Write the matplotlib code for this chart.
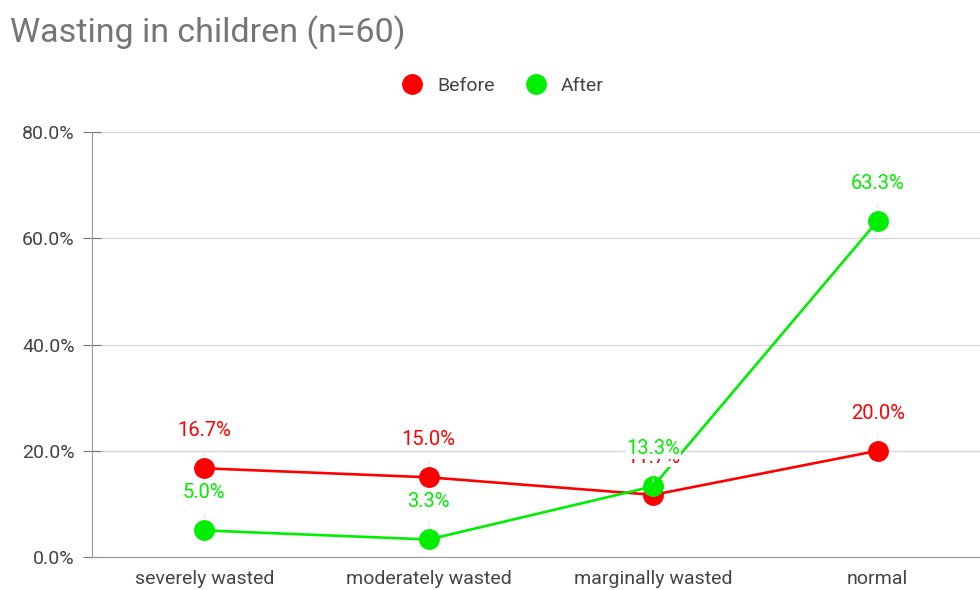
import matplotlib
matplotlib.use("Agg")
import matplotlib.pyplot as plt
from matplotlib.ticker import FuncFormatter

plt.rcParams['font.family'] = ['Roboto', 'DejaVu Sans']

categories = ["severely wasted", "moderately wasted", "marginally wasted", "normal"]
before = [16.7, 15.0, 11.7, 20.0]
after = [5.0, 3.3, 13.3, 63.3]
yticks = [0, 20, 40, 60, 80]

RED = "#ff0000"
GREEN = "#00ee00"

fig = plt.figure(figsize=(9.8, 5.9), dpi=100)
ax = fig.add_axes([92 / 980, 33 / 590, 898 / 980, 425 / 590])

x = list(range(len(categories)))
ax.plot(x, before, color=RED, lw=1.9, marker='o', ms=14, label="Before", zorder=3)
ax.plot(x, after, color=GREEN, lw=1.9, marker='o', ms=14, label="After", zorder=4)

# data labels with faint leader lines
for series, col, z in [(before, RED, 5), (after, GREEN, 6)]:
    for xi, v in zip(x, series):
        ax.annotate(f"{v:.1f}%", (xi, v), xytext=(0, 27), textcoords='offset points',
                    ha='center', va='center', color=col, fontsize=14.5, zorder=z,
                    bbox=dict(boxstyle='square,pad=0.02', fc='white', ec='none'),
                    arrowprops=dict(arrowstyle='-', color='#e4e4e4', lw=0.8,
                                    shrinkA=8, shrinkB=9))

ax.set_xlim(-0.5, 3.5)
ax.set_ylim(0, 80)
ax.set_yticks(yticks)
ax.yaxis.set_major_formatter(FuncFormatter(lambda v, p: f"{v:.1f}%"))
ax.set_xticks(x)
ax.set_xticklabels(categories)
ax.grid(axis='y', color='#d9d9d9', lw=1)
ax.set_axisbelow(True)

for s in ['top', 'right']:
    ax.spines[s].set_visible(False)
ax.spines['left'].set_color('#999999')
ax.spines['bottom'].set_color('#999999')
ax.tick_params(axis='y', length=13, direction='inout', color='#777777',
               labelsize=14, labelcolor='#444444', pad=6)
ax.tick_params(axis='x', length=0, labelsize=14, labelcolor='#444444', pad=9)

fig.text(10 / 980, 1 - 33 / 590, "Wasting in children (n=60)", fontsize=24.5,
         color='#757575', va='center', ha='left')

fig.legend(loc='center', bbox_to_anchor=(503 / 980, 1 - 86 / 590), ncol=2,
           frameon=False, handlelength=1.0, handletextpad=0.8, columnspacing=1.6,
           fontsize=14, labelcolor='#444444')
for h in fig.legends[0].legend_handles:
    h.set_linestyle('none')

fig.savefig("out.png", dpi=100)
